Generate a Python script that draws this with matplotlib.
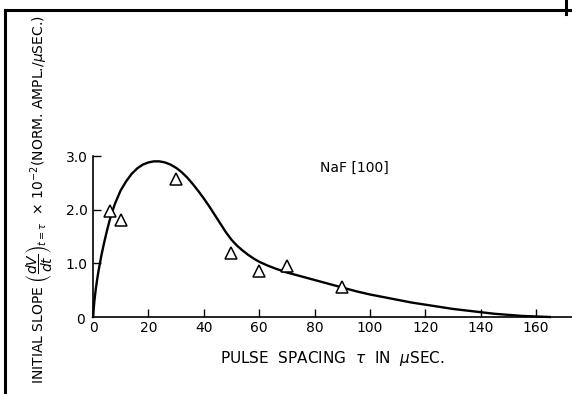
import matplotlib
matplotlib.use("Agg")
import matplotlib.pyplot as plt
from matplotlib.lines import Line2D

# measured points (triangles)
tau_pts = [6, 10, 30, 50, 60, 70, 90]
slope_pts = [1.97, 1.8, 2.58, 1.2, 0.85, 0.95, 0.55]

# fitted curve
tau_curve = [0, 0.5, 1, 1.5, 2, 3, 4, 5, 6, 7, 8, 10, 12, 14, 16, 18, 20,
             22, 24, 26, 28, 30, 32, 34, 36, 38, 40, 42, 44, 46, 48, 50,
             52, 54, 56, 58, 60, 63, 66, 70, 75, 80, 85, 90, 95, 100, 105,
             110, 115, 120, 125, 130, 135, 140, 145, 150, 155, 160, 165]
slope_curve = [0, 0.3, 0.52, 0.7, 0.86, 1.14, 1.38, 1.6, 1.8, 1.97, 2.12,
               2.36, 2.53, 2.67, 2.77, 2.84, 2.88, 2.9, 2.9, 2.88, 2.84,
               2.78, 2.7, 2.6, 2.48, 2.35, 2.21, 2.06, 1.9, 1.74, 1.58,
               1.44, 1.33, 1.24, 1.16, 1.09, 1.03, 0.96, 0.9, 0.83, 0.76,
               0.69, 0.62, 0.55, 0.48, 0.42, 0.37, 0.32, 0.27, 0.23, 0.19,
               0.15, 0.12, 0.09, 0.06, 0.04, 0.02, 0.01, 0]

x_ticks = [0, 20, 40, 60, 80, 100, 120, 140, 160]
x_labels = ["0", "20", "40", "60", "80", "100", "120", "140", "160"]
y_ticks = [1.0, 2.0, 3.0]
y_labels = ["1.0", "2.0", "3.0"]

plt.rcParams["font.family"] = "DejaVu Sans"
plt.rcParams["mathtext.fontset"] = "dejavusans"

fig = plt.figure(figsize=(5.72, 3.94), dpi=100)
ax = fig.add_axes([93 / 572, 77 / 394, 479 / 572, 161 / 394])

ax.plot(tau_curve, slope_curve, color="black", lw=1.7, clip_on=False)
ax.plot(tau_pts, slope_pts, linestyle="none", marker="^", markersize=9,
        markerfacecolor="white", markeredgecolor="black", markeredgewidth=1.1,
        clip_on=False)

ax.set_xlim(0, 173)
ax.set_ylim(0, 3.0)
ax.spines["top"].set_visible(False)
ax.spines["right"].set_visible(False)
ax.spines["left"].set_linewidth(1.2)
ax.spines["bottom"].set_linewidth(1.2)

ax.set_xticks(x_ticks)
ax.set_xticklabels(x_labels)
ax.set_yticks(y_ticks)
ax.set_yticklabels(y_labels)
ax.tick_params(direction="in", length=6, width=1.0, labelsize=10)
ax.tick_params(axis="x", pad=3)
ax.tick_params(axis="y", pad=4)
ax.text(-3, -0.05, "0", fontsize=10, ha="right", va="center")

ax.text(82, 2.77, "NaF [100]", fontsize=10, ha="left", va="center")

ax.set_xlabel(r"PULSE  SPACING  $\tau$  IN  $\mu$SEC.", fontsize=11, labelpad=10)
fig.text(40 / 572, 1 - 200 / 394,
         r"INITIAL SLOPE $\left(\dfrac{dV}{dt}\right)_{t=\tau}$  $\times\ 10^{-2}$(NORM. AMPL./$\mu$SEC.)",
         rotation=90, fontsize=10, ha="center", va="center")

# frame lines of the scanned page
fig.add_artist(Line2D([5 / 572, 5 / 572], [0, 1 - 10 / 394], color="black", lw=2.2))
fig.add_artist(Line2D([5 / 572, 1], [1 - 10 / 394, 1 - 10 / 394], color="black", lw=2.2))
fig.add_artist(Line2D([566 / 572, 566 / 572], [1 - 14 / 394, 1], color="black", lw=2.2))

fig.savefig("out.png", dpi=100)
